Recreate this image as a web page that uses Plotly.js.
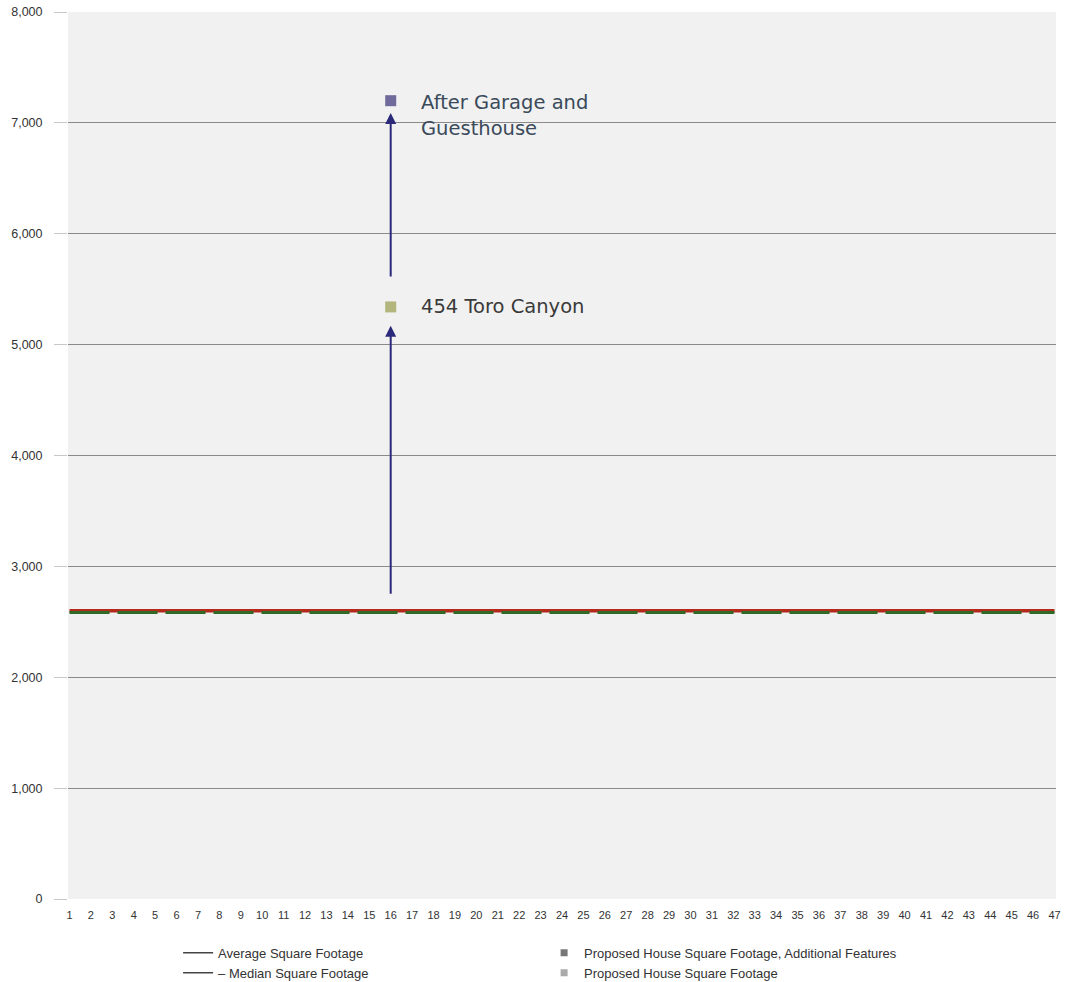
<!DOCTYPE html>
<html>
<head>
<meta charset="utf-8">
<script src="https://cdn.plot.ly/plotly-3.0.1.min.js"></script>
<style>html,body{margin:0;padding:0;background:#fff;}#chart{width:1086px;height:982px;}</style>
</head>
<body>
<div id="chart"></div>
<script>
// Data
const categories = Array.from({length: 47}, (_, i) => i + 1);
const averageSqFt = 2600;
const medianSqFt = 2585;
const averageValues = categories.map(() => averageSqFt);
const medianValues = categories.map(() => medianSqFt);
const proposedX = [16];
const proposedValues = [5340];
const additionalX = [16];
const additionalValues = [7200];
const arrow1 = {x: 16, from: 2740, to: 5170};
const arrow2 = {x: 16, from: 5600, to: 7090};
const yTickVals = [0, 1000, 2000, 3000, 4000, 5000, 6000, 7000, 8000];
const yTickText = ["0", "1,000", "2,000", "3,000", "4,000", "5,000", "6,000", "7,000", "8,000"];

const traces = [
  {x: categories, y: averageValues, type: 'scatter', mode: 'lines',
   line: {color: '#b52a1c', width: 3.5}, showlegend: false, hoverinfo: 'skip'},
  {x: categories, y: medianValues, type: 'scatter', mode: 'lines',
   line: {color: '#2f6b26', width: 3, dash: '40px,8px'}, showlegend: false, hoverinfo: 'skip'},
  {x: proposedX, y: proposedValues, type: 'scatter', mode: 'markers',
   marker: {symbol: 'square', size: 11, color: '#b3b67c'}, showlegend: false},
  {x: additionalX, y: additionalValues, type: 'scatter', mode: 'markers',
   marker: {symbol: 'square', size: 11, color: '#6e6a9c'}, showlegend: false},
  // legend entries
  {x: [null], y: [null], type: 'scatter', mode: 'lines', name: 'Average Square Footage',
   line: {color: '#444', width: 1.5}},
  {x: [null], y: [null], type: 'scatter', mode: 'markers', name: 'Proposed House Square Footage, Additional Features',
   marker: {symbol: 'square', size: 7, color: '#777'}},
  {x: [null], y: [null], type: 'scatter', mode: 'lines', name: '– Median Square Footage',
   line: {color: '#444', width: 1.5}},
  {x: [null], y: [null], type: 'scatter', mode: 'markers', name: 'Proposed House Square Footage',
   marker: {symbol: 'square', size: 7, color: '#aaa'}}
];

const layout = {
  width: 1086, height: 982,
  paper_bgcolor: '#ffffff',
  plot_bgcolor: '#f1f1f1',
  margin: {l: 68, r: 30, t: 12, b: 83},
  font: {family: 'Arial, Liberation Sans, sans-serif', color: '#333'},
  xaxis: {
    range: [0.93, 47.07], tickvals: categories, ticktext: categories.map(String),
    showgrid: false, zeroline: false, showline: false,
    tickfont: {size: 11, color: '#333'}, ticks: '', ticklabelstandoff: 8
  },
  yaxis: {
    range: [0, 8000], tickvals: yTickVals, ticktext: yTickText,
    showgrid: true, gridcolor: '#8a8a8a', gridwidth: 1, zeroline: false,
    ticks: 'outside', ticklen: 13, tickcolor: '#c8c8c8',
    tickfont: {size: 12.5, color: '#333'}, ticklabelstandoff: 9
  },
  showlegend: true,
  legend: {
    orientation: 'h', xref: 'container', yref: 'container',
    x: 0.164, xanchor: 'left', y: 0.045, yanchor: 'top',
    entrywidth: 321, entrywidthmode: 'pixels', tracegroupgap: 0,
    font: {size: 13, color: '#333'}, bgcolor: 'rgba(0,0,0,0)', itemwidth: 30
  },
  annotations: [
    {x: arrow1.x, y: arrow1.to, ax: arrow1.x, ay: arrow1.from, xref: 'x', yref: 'y', axref: 'x', ayref: 'y',
     showarrow: true, arrowhead: 2, arrowsize: 1.1, arrowwidth: 2, arrowcolor: '#2b2a7a', text: ''},
    {x: arrow2.x, y: arrow2.to, ax: arrow2.x, ay: arrow2.from, xref: 'x', yref: 'y', axref: 'x', ayref: 'y',
     showarrow: true, arrowhead: 2, arrowsize: 1.1, arrowwidth: 2, arrowcolor: '#2b2a7a', text: ''},
    {x: proposedX[0], y: proposedValues[0], xref: 'x', yref: 'y', xanchor: 'left', yanchor: 'middle',
     xshift: 28, yshift: 0, showarrow: false, text: '454 Toro Canyon',
     font: {family: 'DejaVu Sans, sans-serif', size: 19.5, color: '#3a3a3a'}},
    {x: additionalX[0], y: additionalValues[0], xref: 'x', yref: 'y', xanchor: 'left', yanchor: 'middle',
     xshift: 28, yshift: -2, showarrow: false, text: 'After Garage and',
     font: {family: 'DejaVu Sans, sans-serif', size: 19.5, color: '#3a4a5a'}},
    {x: additionalX[0], y: additionalValues[0], xref: 'x', yref: 'y', xanchor: 'left', yanchor: 'middle',
     xshift: 28, yshift: -28, showarrow: false, text: 'Guesthouse',
     font: {family: 'DejaVu Sans, sans-serif', size: 19.5, color: '#3a4a5a'}}
  ]
};

Plotly.newPlot('chart', traces, layout, {displayModeBar: false, staticPlot: true});
</script>
</body>
</html>
